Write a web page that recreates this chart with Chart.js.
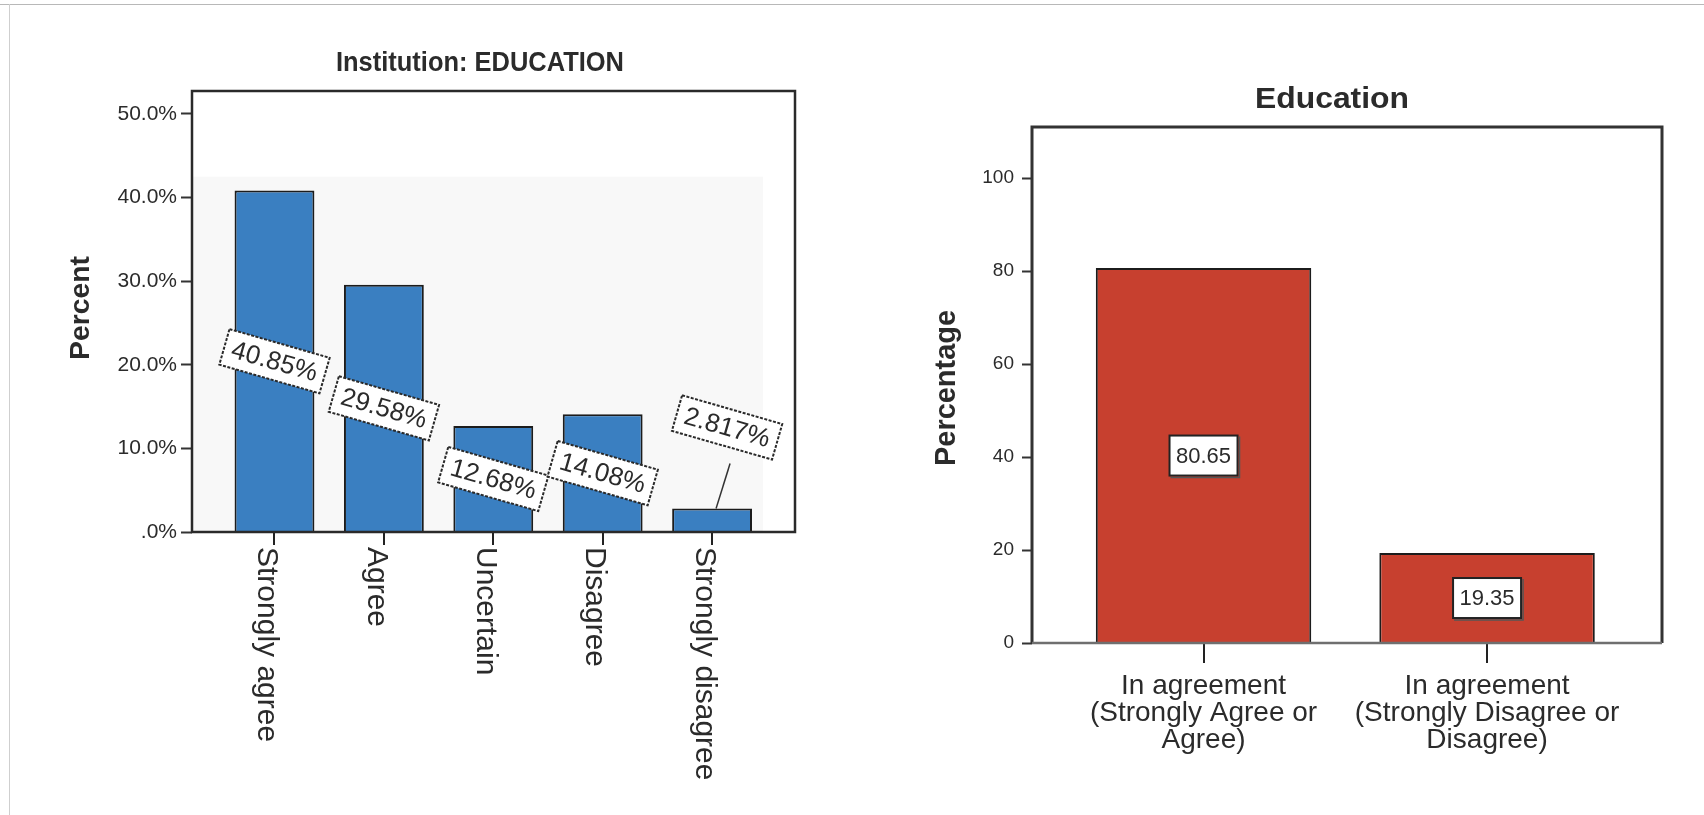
<!DOCTYPE html>
<html>
<head>
<meta charset="utf-8">
<script src="https://cdn.jsdelivr.net/npm/chart.js@4.4.1/dist/chart.umd.min.js"></script>
<style>
  html, body { margin: 0; padding: 0; background: #fff; }
  #page { position: relative; width: 1704px; height: 815px; overflow: hidden; background: #fff; }
  #page .rule-top { position: absolute; left: 0; top: 4px; width: 1704px; height: 1px; background: #b8b8b8; }
  #page .rule-left { position: absolute; left: 9px; top: 4px; width: 1px; height: 811px; background: #cfcfcf; }
  #levels { position: absolute; left: 0; top: 0; }
  #groups { position: absolute; left: 860px; top: 0; }
</style>
</head>
<body>
<div id="page">
  <div class="rule-top"></div>
  <div class="rule-left"></div>
  <canvas id="levels" width="860" height="815" style="width:860px;height:815px"></canvas>
  <canvas id="groups" width="844" height="815" style="width:844px;height:815px"></canvas>
</div>
<script>
// Responses per agreement level (percent of respondents)
const agreementLevels = ['Strongly agree', 'Agree', 'Uncertain', 'Disagree', 'Strongly disagree'];
const levelPercents = [40.85, 29.58, 12.68, 14.08, 2.817];
const percentTickLabels = ['.0%', '10.0%', '20.0%', '30.0%', '40.0%', '50.0%'];

// Responses grouped into agreement / disagreement
const groupCategories = [
  ['In agreement', '(Strongly Agree or', 'Agree)'],
  ['In agreement', '(Strongly Disagree or', 'Disagree)']
];
const groupPercents = [80.65, 19.35];
const groupTickLabels = ['0', '20', '40', '60', '80', '100'];

const FONT = '"Liberation Sans", Arial, Helvetica, sans-serif';
const DEG = Math.PI / 180;
const INK = '#2b2b2b';

// Text squeezed or stretched horizontally to a given width
function fittedText(ctx, text, cx, cy, font, width, angle) {
  ctx.save();
  ctx.font = font;
  const w = ctx.measureText(text).width;
  ctx.translate(cx, cy);
  if (angle) ctx.rotate(angle);
  ctx.scale(width / w, 1);
  ctx.textAlign = 'center';
  ctx.textBaseline = 'middle';
  ctx.fillStyle = INK;
  ctx.fillText(text, 0, 0);
  ctx.restore();
}

const levelsDecor = {
  id: 'levelsDecor',
  beforeDatasetsDraw(chart) {
    const { ctx, chartArea: a, scales: { x, y } } = chart;
    const top = y.getPixelForValue(42.5);
    const right = x.getPixelForValue(4.465);
    ctx.save();
    ctx.fillStyle = '#f8f8f8';
    ctx.fillRect(a.left, top, right - a.left, a.bottom - top);
    ctx.restore();
  },
  afterDatasetsDraw(chart) {
    const { ctx, chartArea: a, scales: { x, y } } = chart;
    ctx.save();
    // plot frame
    ctx.strokeStyle = '#2a2a2a';
    ctx.lineWidth = 2.5;
    ctx.strokeRect(a.left, a.top, a.right - a.left, a.bottom - a.top);

    // title and axis title
    fittedText(ctx, 'Institution: EDUCATION', 480, 63, `bold 28px ${FONT}`, 288);
    fittedText(ctx, 'Percent', 81, 308, `bold 28px ${FONT}`, 104, -90 * DEG);

    // category names, reading downwards
    ctx.font = `30px ${FONT}`;
    ctx.fillStyle = INK;
    ctx.textAlign = 'left';
    ctx.textBaseline = 'middle';
    agreementLevels.forEach((name, i) => {
      const px = x.getPixelForValue(i);
      ctx.save();
      ctx.translate(px - 8, a.bottom + 15);
      ctx.rotate(90 * DEG);
      ctx.fillText(name, 0, 0);
      ctx.restore();
    });

    // value tags, tilted, at half bar height (small bars get a callout)
    const tilt = 16 * DEG;
    levelPercents.forEach((v, i) => {
      const txt = v.toPrecision(4) + '%';
      const px = x.getPixelForValue(i);
      const barTop = y.getPixelForValue(v);
      const callout = v < 6;
      let cx = px, cy = y.getPixelForValue(v / 2);
      if (callout) { cx = px + 15; cy = barTop - 81; }
      ctx.font = `26px ${FONT}`;
      const w = ctx.measureText(txt).width + 16, h = 37;
      if (callout) {
        ctx.strokeStyle = '#333';
        ctx.lineWidth = 1.5;
        ctx.setLineDash([]);
        ctx.beginPath();
        ctx.moveTo(px + 4, barTop);
        ctx.lineTo(cx + 3, cy + 36);
        ctx.stroke();
      }
      ctx.save();
      ctx.translate(cx, cy);
      ctx.rotate(tilt);
      ctx.fillStyle = '#fff';
      ctx.fillRect(-w / 2, -h / 2, w, h);
      ctx.strokeStyle = '#2a2a2a';
      ctx.lineWidth = 2;
      ctx.setLineDash([3, 1.5]);
      ctx.strokeRect(-w / 2, -h / 2, w, h);
      ctx.setLineDash([]);
      ctx.fillStyle = INK;
      ctx.textAlign = 'center';
      ctx.textBaseline = 'middle';
      ctx.fillText(txt, 0, 1);
      ctx.restore();
    });
    ctx.restore();
  }
};

const groupsDecor = {
  id: 'groupsDecor',
  afterDatasetsDraw(chart) {
    const { ctx, chartArea: a, scales: { x, y } } = chart;
    ctx.save();
    ctx.lineWidth = 3;
    ctx.strokeStyle = '#333';
    ctx.beginPath();
    ctx.moveTo(a.left, a.bottom);
    ctx.lineTo(a.left, a.top);
    ctx.lineTo(a.right, a.top);
    ctx.lineTo(a.right, a.bottom);
    ctx.stroke();
    ctx.strokeStyle = '#6f6f6f';
    ctx.lineWidth = 2.5;
    ctx.beginPath();
    ctx.moveTo(a.left, a.bottom);
    ctx.lineTo(a.right, a.bottom);
    ctx.stroke();

    fittedText(ctx, 'Education', 472, 100, `bold 30px ${FONT}`, 154);
    fittedText(ctx, 'Percentage', 87, 388, `bold 29px ${FONT}`, 156, -90 * DEG);

    // value boxes at half bar height
    groupPercents.forEach((v, i) => {
      const txt = v.toFixed(2);
      const cx = x.getPixelForValue(i);
      const cy = y.getPixelForValue(v / 2);
      const w = 68, h = 40;
      ctx.fillStyle = '#fff';
      ctx.fillRect(cx - w / 2, cy - h / 2, w, h);
      ctx.strokeStyle = '#222';
      ctx.lineWidth = 2;
      ctx.strokeRect(cx - w / 2, cy - h / 2, w, h);
      ctx.strokeStyle = '#555';
      ctx.lineWidth = 1.5;
      ctx.beginPath();
      ctx.moveTo(cx - w / 2 + 1, cy + h / 2 + 2);
      ctx.lineTo(cx + w / 2 + 2, cy + h / 2 + 2);
      ctx.lineTo(cx + w / 2 + 2, cy - h / 2 + 1);
      ctx.stroke();
      ctx.font = `22px ${FONT}`;
      ctx.fillStyle = INK;
      ctx.textAlign = 'center';
      ctx.textBaseline = 'middle';
      ctx.fillText(txt, cx, cy + 1);
    });
    ctx.restore();
  }
};

new Chart(document.getElementById('levels'), {
  type: 'bar',
  data: {
    datasets: [{
      data: levelPercents.map((v, i) => ({ x: i, y: v })),
      backgroundColor: '#3a7fc1',
      borderColor: '#1c1c1c',
      borderWidth: 2,
      barPercentage: 0.73,
      categoryPercentage: 1
    }]
  },
  options: {
    responsive: false,
    animation: false,
    layout: { padding: { top: 91, left: 100, right: 65, bottom: 0 } },
    plugins: { legend: { display: false }, tooltip: { enabled: false }, title: { display: false } },
    scales: {
      x: {
        type: 'linear', min: -0.754, max: 4.758, offset: false,
        afterFit(s) { s.height = 283; },
        ticks: { stepSize: 1, includeBounds: false, display: false },
        grid: { offset: false, drawOnChartArea: false, drawTicks: true, tickLength: 13, tickWidth: 2, tickColor: '#222', lineWidth: 2, color: '#222' },
        border: { display: false }
      },
      y: {
        min: 0, max: 52.75,
        afterFit(s) { s.width = 92; },
        ticks: {
          stepSize: 10, includeBounds: false, padding: 4, color: INK,
          font: { family: FONT, size: 21 },
          callback: (v) => percentTickLabels[Math.round(v / 10)]
        },
        grid: { drawOnChartArea: false, tickLength: 11, tickWidth: 2, tickColor: '#333' },
        border: { display: false }
      }
    }
  },
  plugins: [levelsDecor]
});

new Chart(document.getElementById('groups'), {
  type: 'bar',
  data: {
    datasets: [{
      data: groupPercents.map((v, i) => ({ x: i, y: v })),
      backgroundColor: '#c7402f',
      borderColor: '#1c1c1c',
      borderWidth: 2,
      barPercentage: 0.76,
      categoryPercentage: 1
    }]
  },
  options: {
    responsive: false,
    animation: false,
    layout: { padding: { top: 127, left: 60, right: 42, bottom: 0 } },
    plugins: { legend: { display: false }, tooltip: { enabled: false }, title: { display: false } },
    scales: {
      x: {
        type: 'linear', min: -0.605, max: 1.617, offset: false,
        afterFit(s) { s.height = 172; },
        ticks: {
          stepSize: 1, includeBounds: false, padding: 10, color: INK, maxRotation: 0, autoSkip: false,
          font: { family: FONT, size: 28, lineHeight: '27px' },
          callback: (v) => groupCategories[Math.round(v)]
        },
        grid: { offset: false, drawOnChartArea: false, drawTicks: true, tickLength: 20, tickWidth: 2, tickColor: '#222', lineWidth: 2, color: '#222' },
        border: { display: false }
      },
      y: {
        min: 0, max: 111,
        afterFit(s) { s.width = 112; },
        ticks: {
          stepSize: 20, includeBounds: false, padding: 8, color: INK,
          font: { family: FONT, size: 19 },
          callback: (v) => groupTickLabels[Math.round(v / 20)]
        },
        grid: { drawOnChartArea: false, tickLength: 10, tickWidth: 2, tickColor: '#333' },
        border: { display: false }
      }
    }
  },
  plugins: [groupsDecor]
});
</script>
</body>
</html>
